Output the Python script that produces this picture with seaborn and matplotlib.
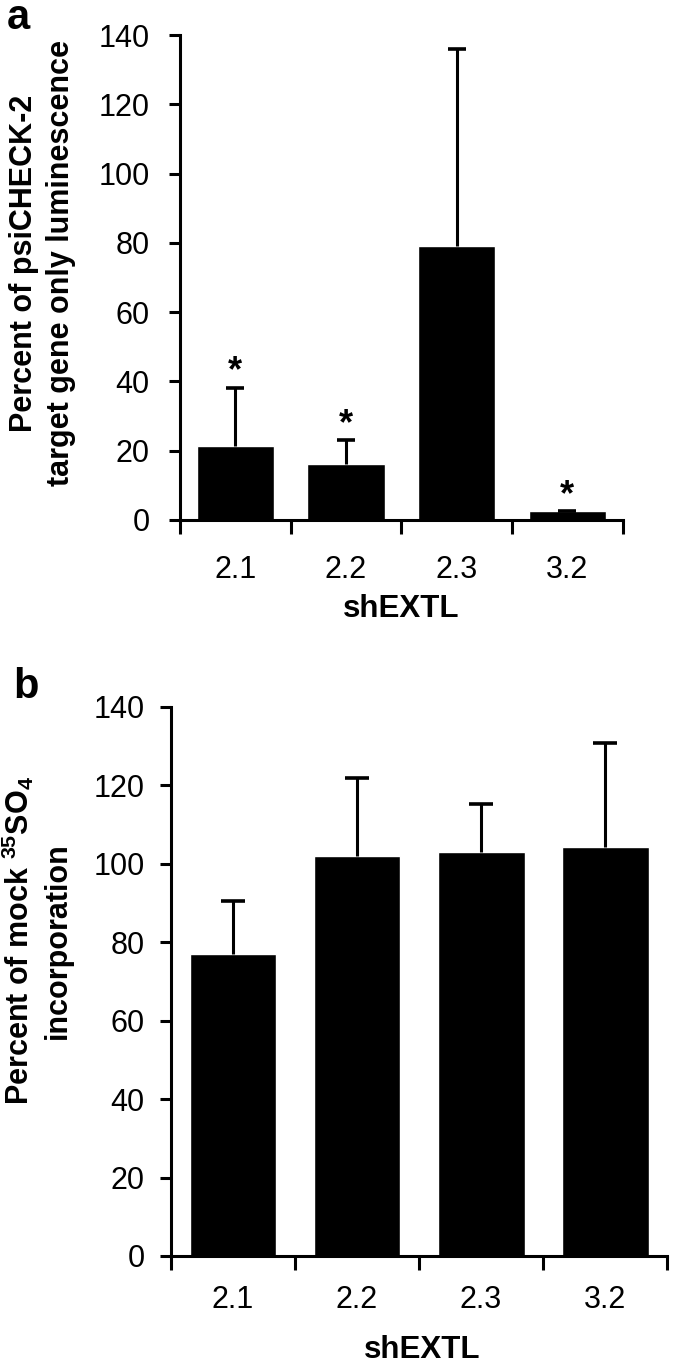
import numpy as np
import pandas as pd
import seaborn as sns
import matplotlib.pyplot as plt

# values
groups = ['2.1', '2.2', '2.3', '3.2']
lum_mean = [21.4, 16.3, 79.1, 2.6]
lum_upper = [38.2, 23.1, 136.0, 2.6]
lum_star = [True, True, False, True]
so4_mean = [77.0, 102.0, 102.9, 104.2]
so4_upper = [90.5, 121.7, 115.3, 130.8]

sns.set_theme(style='white')
plt.rcParams['font.family'] = ['Liberation Sans', 'DejaVu Sans']
plt.rcParams['mathtext.fontset'] = 'custom'
plt.rcParams['mathtext.rm'] = 'Liberation Sans:bold'
plt.rcParams['mathtext.bf'] = 'Liberation Sans:bold'
for k in ['text.color', 'axes.labelcolor', 'xtick.color', 'ytick.color']:
    plt.rcParams[k] = 'black'

fig = plt.figure(figsize=(6.95, 13.64), dpi=100)
ax_a = fig.add_axes([0.259, 0.6188, 0.637, 0.3555])
ax_b = fig.add_axes([0.246, 0.0792, 0.714, 0.4027])


def draw_panel(ax, means, upper, ylabel, ylab_xy, xlab_xy, tick_pad, xpad, cap):
    df = pd.DataFrame({'group': groups, 'value': means})
    sns.barplot(data=df, x='group', y='value', color='black', width=0.7,
                errorbar=None, saturation=1, ax=ax)
    x = np.arange(len(groups))
    up = np.array(upper) - np.array(means)
    _, caps, _ = ax.errorbar(x, means, yerr=[np.zeros(len(x)), up], fmt='none',
                             ecolor='black', elinewidth=2.2, capsize=cap,
                             capthick=2.6)
    # upper-only error bars: hide the cap sitting on the bar top
    caps[0].set_visible(False)
    ax.set_ylim(0, 140)
    ax.set_xlim(-0.5, len(groups) - 0.5)
    ax.set_yticks(range(0, 141, 20))
    ax.set_xticks(x)
    ax.set_xticklabels(groups)
    ax.set_xticks(np.arange(-0.5, len(groups), 1.0), minor=True)
    ax.tick_params(axis='x', which='major', length=0, pad=xpad, labelsize=22)
    ax.tick_params(axis='x', which='minor', length=10, width=2.2,
                   direction='out', bottom=True)
    ax.tick_params(axis='y', length=8, width=2.2, direction='out',
                   pad=tick_pad, labelsize=22, left=True)
    for s in ['top', 'right']:
        ax.spines[s].set_visible(False)
    for s in ['left', 'bottom']:
        ax.spines[s].set_linewidth(2.2)
        ax.spines[s].set_color('black')
    ax.set_ylabel(ylabel, fontsize=22, fontweight='bold', linespacing=1.3)
    ax.yaxis.set_label_coords(*ylab_xy)
    ax.set_xlabel('shEXTL', fontsize=22.5, fontweight='bold')
    ax.xaxis.set_label_coords(*xlab_xy)


draw_panel(ax_a, lum_mean, lum_upper,
           'Percent of psiCHECK-2\ntarget gene only luminescence',
           (-0.235, 0.53), (0.5, -0.152), 14, 25, 6.5)
draw_panel(ax_b, so4_mean, so4_upper,
           'Percent of mock $^{35}$SO$_4$\nincorporation',
           (-0.198, 0.575), (0.506, -0.143), 11, 21, 8.5)

# significance stars
for i, (flag, top) in enumerate(zip(lum_star, lum_upper)):
    if flag:
        ax_a.text(i, top + 4.5, '*', ha='center', va='center',
                  fontsize=26, fontweight='bold')

fig.text(0.026, 0.987, 'a', fontsize=30, fontweight='bold', ha='center', va='center')
fig.text(0.037, 0.496, 'b', fontsize=30, fontweight='bold', ha='center', va='center')

fig.savefig('out.png', dpi=100)
